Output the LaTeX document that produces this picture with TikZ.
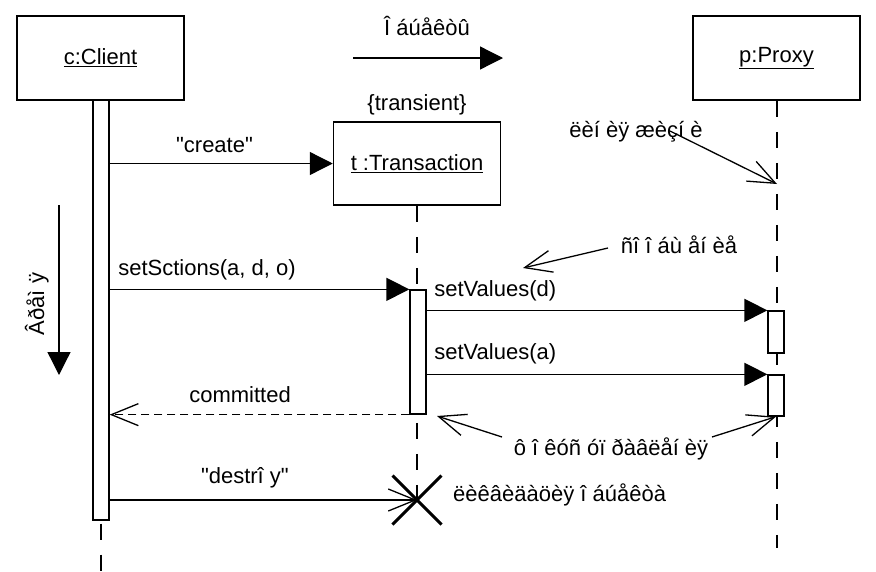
\documentclass[tikz,border=0pt]{standalone}
\usepackage{fontspec}
\setmainfont{Liberation Sans}[Ligatures=TeXOff]
\usetikzlibrary{arrows.meta}

\tikzset{
  obj/.style={draw, line width=1.5pt, fill=white, minimum width=167pt, minimum height=84pt, inner sep=0pt},
  actbar/.style={draw, line width=1.3pt, fill=white, minimum width=16pt, inner sep=0pt},
  life/.style={line width=1.3pt, dash pattern=on 16pt off 15pt},
  call/.style={line width=1.3pt, -{Triangle[length=23pt,width=23pt]}},
  ret/.style={line width=1.3pt, dash pattern=on 8pt off 5pt, -{Straight Barb[length=27pt,width=22pt]}},
  note/.style={line width=1.3pt, -{Straight Barb[length=27pt,width=22pt]}},
  lbl/.style={anchor=base, inner sep=0pt},
}

\begin{document}
\begin{tikzpicture}[x=1pt, y=-1pt, font=\fontsize{22}{26}\selectfont]
    \useasboundingbox (0,0) rectangle (876,571);
    % Objects
    \node[obj] (client) at (100.5,58) {\underline{c:Client}};
    \node[obj] (proxy) at (776.5,58) {\underline{p:Proxy}};
    \node[obj, minimum height=83pt] (trans) at (417,163.5) {\underline{t :Transaction}};
    \node[lbl] (transient) at (417,110) {\{transient\}};
    % Lifelines
    \coordinate (cend) at (101,571);
    \coordinate (pend) at (777,548);
    \coordinate (kill) at (417,500);
    \draw[life] (trans.south) -- (kill);
    \draw[life] ([xshift=0.5pt]proxy.south) -- (pend);
    % Activations
    \node[actbar, minimum height=420pt] (cbar) at (101,310) {};
    \node[actbar, minimum height=124pt] (tbar) at (418,352) {};
    \node[actbar, minimum height=42pt] (pbar1) at (776,332) {};
    \node[actbar, minimum height=41pt] (pbar2) at (776,395.5) {};
    \draw[life] ([yshift=-3pt]cbar.south) -- (cend);
    % Messages
    \draw[call] (cbar.east |- trans.west) -- (trans.west) node[lbl, pos=0.47, yshift=11pt] {"create"};
    \draw[call] (cbar.east |- tbar.north) -- (tbar.north west) node[lbl, pos=0, anchor=base west, xshift=8pt, yshift=14pt] {setSctions(a, d, o)};
    \draw[call] (tbar.east |- pbar1.north) -- (pbar1.north west) node[lbl, pos=0, anchor=base west, xshift=7pt, yshift=14pt] {setValues(d)};
    \draw[call] (tbar.east |- pbar2.north) -- (pbar2.north west) node[lbl, pos=0, anchor=base west, xshift=7pt, yshift=15pt] {setValues(a)};
    \draw[ret] (tbar.south west) -- (cbar.east |- tbar.south) node[lbl, pos=0.565, yshift=12pt] {committed};
    \draw[note] (cbar.east |- kill) -- (kill) node[lbl, pos=0.44, yshift=17pt] {"destrî y"};
    % Destruction
    \draw[line width=3pt] (kill) +(-24.5,-24.5) -- +(24.5,24.5);
    \draw[line width=3pt] (kill) +(-24.5,24.5) -- +(24.5,-24.5);
    \node[lbl, anchor=base west] (killnote) at ([xshift=36pt, yshift=-1pt]kill) {ëèêâèäàöèÿ î áúåêòà};
    % Objects header
    \node[lbl] (objnote) at (427,35) {Î áúåêòû};
    \coordinate (objfrom) at (353,58);
    \coordinate (objto) at (503,58);
    \draw[call] (objfrom) -- (objto);
    % Time axis
    \coordinate (timefrom) at (59,205);
    \coordinate (timeto) at (59,375);
    \draw[call] (timefrom) -- (timeto);
    \node[lbl, rotate=90] (timenote) at (44,304) {Âðåì ÿ};
    % Notes
    \node[lbl] (lifenote) at (636,137) {ëèí èÿ æèçí è};
    \coordinate (lifept) at (777,184);
    \draw[note] ([xshift=34pt, yshift=6pt]lifenote.base) -- (lifept);
    \node[lbl] (msgnote) at (679,253) {ñî î áù åí èå};
    \coordinate (msgpt) at (523,268);
    \draw[note] ([xshift=-71pt, yshift=5pt]msgnote.base) -- (msgpt);
    \node[lbl] (focusnote) at (611,455) {ô î êóñ óï ðàâëåí èÿ};
    \coordinate (focuspt) at (437,416);
    \draw[note] ([xshift=-109pt, yshift=18pt]focusnote.base) -- (focuspt);
    \draw[note] ([xshift=101pt, yshift=18pt]focusnote.base) -- (pbar2.south);
\end{tikzpicture}
\end{document}
